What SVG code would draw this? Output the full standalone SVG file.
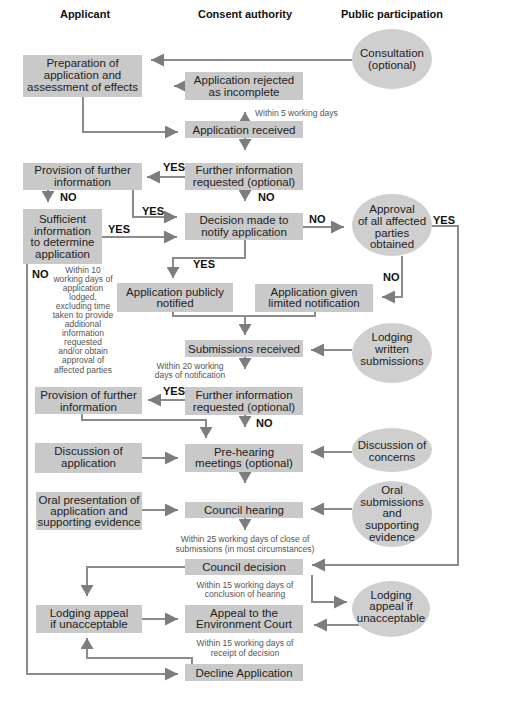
<svg xmlns="http://www.w3.org/2000/svg" width="514" height="713" viewBox="0 0 514 713">
<style>
  .bg{fill:#ffffff}
  .box{fill:#c9c9c9}
  .ell{fill:#cfcfcf}
  .t{font-family:"Liberation Sans",Arial,sans-serif;font-size:11.5px;fill:#222;text-anchor:middle}
  .h{font-family:"Liberation Sans",Arial,sans-serif;font-size:11px;font-weight:bold;fill:#111;text-anchor:middle}
  .lbl{font-family:"Liberation Sans",Arial,sans-serif;font-size:11px;font-weight:bold;fill:#111}
  .n{font-family:"Liberation Sans",Arial,sans-serif;font-size:8.5px;fill:#555;text-anchor:middle}
  .c{fill:none;stroke:#8c8c8c;stroke-width:2}
  .ch{fill:none;stroke:#8c8c8c;stroke-width:2;marker-end:url(#ah)}
  .cv{fill:none;stroke:#8c8c8c;stroke-width:2;marker-end:url(#av)}
</style>
<defs>
  <marker id="ah" markerUnits="userSpaceOnUse" markerWidth="13" markerHeight="13" refX="13" refY="6.5" orient="auto" viewBox="0 0 13 13"><path d="M0,0 L13,6.5 L0,13 z" fill="#7d7d7d"/></marker>
  <marker id="av" markerUnits="userSpaceOnUse" markerWidth="11" markerHeight="13" refX="11" refY="6.5" orient="auto" viewBox="0 0 11 13"><path d="M0,0 L11,6.5 L0,13 z" fill="#7d7d7d"/></marker>
</defs>
<rect class="bg" x="0" y="0" width="514" height="713"/>

<g id="headers">
  <text class="h" x="85" y="18">Applicant</text>
  <text class="h" x="245" y="18">Consent authority</text>
  <text class="h" x="392" y="18">Public participation</text>
</g>

<g id="connectors">
  <path class="ch" d="M352,60 L151,60"/>
  <path class="ch" d="M186,86 L174,86"/>
  <path class="ch" d="M83,97 L83,132 L178,132"/>
  <path class="cv" d="M245,122 L245,112"/>
  <path class="cv" d="M245,138 L245,150"/>
  <path class="ch" d="M185,177 L147,177"/>
  <path class="cv" d="M245,190 L245,201"/>
  <path class="cv" d="M48,190 L48,202"/>
  <path class="ch" d="M133,190 L133,217 L177,217"/>
  <path class="ch" d="M102,237 L177,237"/>
  <path class="ch" d="M303,227 L344,227"/>
  <path class="ch" d="M432,226 L458,226 L458,565 L312,565"/>
  <path class="ch" d="M402,256 L402,297 L382,297"/>
  <path class="cv" d="M245,240 L245,258 L173,258 L173,278"/>
  <path class="c" d="M173,312 L173,316 L315,316 L315,312"/>
  <path class="cv" d="M245,316 L245,335"/>
  <path class="ch" d="M352,350 L311,350"/>
  <path class="cv" d="M245,357 L245,369"/>
  <path class="ch" d="M185,400 L148,400"/>
  <path class="cv" d="M245,415 L245,427"/>
  <path class="cv" d="M82,414 L82,420 L206,420 L206,438"/>
  <path class="ch" d="M142,458 L178,458"/>
  <path class="ch" d="M352,452 L311,452"/>
  <path class="cv" d="M245,472 L245,483"/>
  <path class="ch" d="M142,510 L178,510"/>
  <path class="ch" d="M352,509 L311,509"/>
  <path class="cv" d="M245,518 L245,530"/>
  <path class="cv" d="M185,567 L87,567 L87,596"/>
  <path class="ch" d="M312,575 L312,602 L347,602"/>
  <path class="ch" d="M359,625 L314,625"/>
  <path class="ch" d="M142,619 L178,619"/>
  <path class="cv" d="M192,664 L192,658 L87,658 L87,638"/>
  <path class="ch" d="M27,264 L27,674 L178,674"/>
</g>

<g id="labels">
  <text class="lbl" x="163" y="171">YES</text>
  <text class="lbl" x="258" y="201">NO</text>
  <text class="lbl" x="60" y="201">NO</text>
  <text class="lbl" x="142" y="215">YES</text>
  <text class="lbl" x="108" y="233">YES</text>
  <text class="lbl" x="309" y="223">NO</text>
  <text class="lbl" x="433" y="224">YES</text>
  <text class="lbl" x="383" y="281">NO</text>
  <text class="lbl" x="193" y="268">YES</text>
  <text class="lbl" x="32" y="278">NO</text>
  <text class="lbl" x="163" y="395">YES</text>
  <text class="lbl" x="256" y="427">NO</text>
</g>

<g id="notes">
  <text class="n" x="255" y="116" style="text-anchor:start">Within 5 working days</text>
  <text class="n" x="83" y="273">Within 10</text>
  <text class="n" x="83" y="282">working days of</text>
  <text class="n" x="83" y="291">application</text>
  <text class="n" x="83" y="300">lodged,</text>
  <text class="n" x="83" y="309">excluding time</text>
  <text class="n" x="83" y="318">taken to provide</text>
  <text class="n" x="83" y="327">additional</text>
  <text class="n" x="83" y="336">information</text>
  <text class="n" x="83" y="345">requested</text>
  <text class="n" x="83" y="354">and/or obtain</text>
  <text class="n" x="83" y="363">approval of</text>
  <text class="n" x="83" y="373">affected parties</text>
  <text class="n" x="190" y="369">Within 20 working</text>
  <text class="n" x="190" y="378">days of notification</text>
  <text class="n" x="245" y="542">Within 25 working days of close of</text>
  <text class="n" x="245" y="552">submissions (in most circumstances)</text>
  <text class="n" x="245" y="588">Within 15 working days of</text>
  <text class="n" x="245" y="597">conclusion of hearing</text>
  <text class="n" x="245" y="646">Within 15 working days of</text>
  <text class="n" x="245" y="656">receipt of decision</text>
</g>

<g id="preparation"><rect class="box" x="23" y="55" width="119" height="42"/>
  <text class="t" x="82.5" y="67">Preparation of</text><text class="t" x="82.5" y="79">application and</text><text class="t" x="82.5" y="91">assessment of effects</text></g>
<g id="consultation"><ellipse class="ell" cx="392" cy="59" rx="40" ry="30"/>
  <text class="t" x="392" y="57">Consultation</text><text class="t" x="392" y="69">(optional)</text></g>
<g id="rejected"><rect class="box" x="185" y="72" width="118" height="28"/>
  <text class="t" x="244" y="84">Application rejected</text><text class="t" x="244" y="96">as incomplete</text></g>
<g id="received"><rect class="box" x="185" y="121" width="118" height="17"/>
  <text class="t" x="244" y="134">Application received</text></g>
<g id="further1"><rect class="box" x="185" y="163" width="118" height="27"/>
  <text class="t" x="244" y="174">Further information</text><text class="t" x="244" y="186">requested (optional)</text></g>
<g id="provision1"><rect class="box" x="23" y="163" width="119" height="27"/>
  <text class="t" x="82.5" y="174">Provision of further</text><text class="t" x="82.5" y="186">information</text></g>
<g id="sufficient"><rect class="box" x="23" y="209" width="79" height="55"/>
  <text class="t" x="62.5" y="223">Sufficient</text><text class="t" x="62.5" y="235">information</text><text class="t" x="62.5" y="246">to determine</text><text class="t" x="62.5" y="258">application</text></g>
<g id="decision"><rect class="box" x="185" y="213" width="118" height="27"/>
  <text class="t" x="244" y="224">Decision made to</text><text class="t" x="244" y="236">notify application</text></g>
<g id="approval"><ellipse class="ell" cx="392" cy="225" rx="40" ry="31"/>
  <text class="t" x="392" y="213">Approval</text><text class="t" x="392" y="225">of all affected</text><text class="t" x="392" y="237">parties</text><text class="t" x="392" y="248">obtained</text></g>
<g id="publicly"><rect class="box" x="117" y="283" width="116" height="29"/>
  <text class="t" x="175" y="296">Application publicly</text><text class="t" x="175" y="307">notified</text></g>
<g id="limited"><rect class="box" x="255" y="284" width="118" height="28"/>
  <text class="t" x="314" y="296">Application given</text><text class="t" x="314" y="307">limited notification</text></g>
<g id="submissions"><rect class="box" x="185" y="340" width="118" height="17"/>
  <text class="t" x="244" y="353">Submissions received</text></g>
<g id="written"><ellipse class="ell" cx="392" cy="353" rx="40" ry="30"/>
  <text class="t" x="392" y="341">Lodging</text><text class="t" x="392" y="353">written</text><text class="t" x="392" y="365">submissions</text></g>
<g id="further2"><rect class="box" x="185" y="387" width="118" height="28"/>
  <text class="t" x="244" y="399">Further information</text><text class="t" x="244" y="411">requested (optional)</text></g>
<g id="provision2"><rect class="box" x="35" y="387" width="107" height="27"/>
  <text class="t" x="88.5" y="399">Provision of further</text><text class="t" x="88.5" y="411">information</text></g>
<g id="discussionapp"><rect class="box" x="35" y="443" width="107" height="30"/>
  <text class="t" x="88.5" y="455">Discussion of</text><text class="t" x="88.5" y="467">application</text></g>
<g id="prehearing"><rect class="box" x="185" y="444" width="118" height="28"/>
  <text class="t" x="244" y="456">Pre-hearing</text><text class="t" x="244" y="467">meetings (optional)</text></g>
<g id="concerns"><ellipse class="ell" cx="392" cy="450" rx="40" ry="22"/>
  <text class="t" x="392" y="449">Discussion of</text><text class="t" x="392" y="461">concerns</text></g>
<g id="oralpres"><rect class="box" x="36" y="492" width="106" height="38"/>
  <text class="t" x="89" y="504">Oral presentation of</text><text class="t" x="89" y="515">application and</text><text class="t" x="89" y="526">supporting evidence</text></g>
<g id="hearing"><rect class="box" x="185" y="502" width="118" height="16"/>
  <text class="t" x="244" y="514">Council hearing</text></g>
<g id="oralsub"><ellipse class="ell" cx="392" cy="514" rx="40" ry="33"/>
  <text class="t" x="392" y="494">Oral</text><text class="t" x="392" y="506">submissions</text><text class="t" x="392" y="517">and</text><text class="t" x="392" y="529">supporting</text><text class="t" x="392" y="541">evidence</text></g>
<g id="councildecision"><rect class="box" x="185" y="559" width="118" height="16"/>
  <text class="t" x="244" y="571">Council decision</text></g>
<g id="appealleft"><rect class="box" x="36" y="605" width="106" height="28"/>
  <text class="t" x="89" y="617">Lodging appeal</text><text class="t" x="89" y="628">if unacceptable</text></g>
<g id="appealcourt"><rect class="box" x="185" y="605" width="118" height="28"/>
  <text class="t" x="244" y="617">Appeal to the</text><text class="t" x="244" y="628">Environment Court</text></g>
<g id="appealright"><ellipse class="ell" cx="391" cy="609" rx="39" ry="28"/>
  <text class="t" x="391" y="599">Lodging</text><text class="t" x="391" y="610">appeal if</text><text class="t" x="391" y="622">unacceptable</text></g>
<g id="decline"><rect class="box" x="185" y="664" width="118" height="17"/>
  <text class="t" x="244" y="677">Decline Application</text></g>
</svg>
